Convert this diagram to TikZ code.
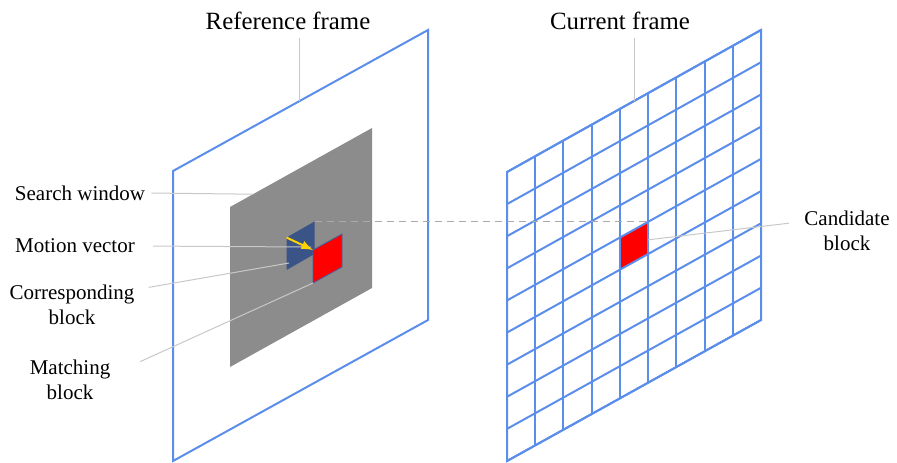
\documentclass[tikz,border=0pt]{standalone}
\usepackage{fontspec}
\setmainfont{Liberation Serif}
\usepackage{xcolor}
\usepackage{tikz}
\usetikzlibrary{positioning, calc}

\definecolor{frameblue}{RGB}{91,141,235}
\definecolor{wingray}{RGB}{140,140,140}
\definecolor{blockblue}{RGB}{59,84,136}
\definecolor{leadgray}{RGB}{200,200,200}
\definecolor{dashgray}{RGB}{170,170,170}
\definecolor{mvyellow}{RGB}{255,210,0}

\begin{document}
\begin{tikzpicture}[x=0.5pt, y=-0.5pt,
        frameline/.style={draw=frameblue, line width=1pt},
        leader/.style={draw=leadgray, line width=0.5pt},
        title/.style={font=\fontsize{12.4}{14}\selectfont, inner sep=2pt},
        tag/.style={font=\fontsize{10.5}{12.5}\selectfont, align=center, inner sep=2pt}]

        \useasboundingbox (0,0) rectangle (897,462);

        % reference frame
        \coordinate (RA) at (173,171);
        \coordinate (RB) at (428,30);
        \coordinate (RC) at (428,320);
        \coordinate (RD) at (173,461);
        \draw [frameline] (RA) -- (RB) -- (RC) -- (RD) -- cycle;

        % search window
        \coordinate (SA) at (230,207);
        \coordinate (SB) at (372,128);
        \coordinate (SC) at (372,288);
        \coordinate (SD) at (230,367);
        \fill [wingray] (SA) -- (SB) -- (SC) -- (SD) -- cycle;

        % corresponding block
        \coordinate (BA) at (286.5,237.5);
        \coordinate (BB) at (314.5,221.5);
        \coordinate (BC) at (314.5,254);
        \coordinate (BD) at (286.5,270);
        \fill [blockblue] (BA) -- (BB) -- (BC) -- (BD) -- cycle;

        % matching block
        \coordinate (MA) at (313,250);
        \coordinate (MB) at (342,234);
        \coordinate (MC) at (342,267);
        \coordinate (MD) at (313,283);
        \filldraw [fill=red, draw=frameblue!70!black, line width=0.4pt] (MA) -- (MB) -- (MC) -- (MD) -- cycle;

        % current frame
        \coordinate (CA) at (507,172);
        \coordinate (CB) at (761,30);
        \coordinate (CC) at (761,320);
        \coordinate (CD) at (507,461);

        % candidate block
        \coordinate (KA) at (620,237.3);
        \coordinate (KB) at (648.1,221.5);
        \coordinate (KC) at (648.1,253.6);
        \coordinate (KD) at (620,269.4);
        \fill [red] (KA) -- (KB) -- (KC) -- (KD) -- cycle;

        % the grid
        \foreach \i in {0,...,9} {
            \draw [frameline] ($(CA)!\i/9!(CB)$) -- ($(CD)!\i/9!(CC)$);
            \draw [frameline] ($(CA)!\i/9!(CD)$) -- ($(CB)!\i/9!(CC)$);
        }
        \draw [frameline] (CA) -- (CB) -- (CC) -- (CD) -- cycle;

        % titles
        \node [title] (rft) at (288,21) {Reference frame};
        \coordinate (rfTip) at ($(RA)!0.498!(RB)$);
        \draw [leader, shorten >=2pt] (rfTip) -- (rfTip |- rft.south);

        \node [title] (cft) at (620,21) {Current frame};
        \coordinate (cfTip) at ($(CA)!0.5!(CB)$);
        \draw [leader, shorten >=2pt] (cfTip) -- (cfTip |- cft.south);

        % labels on the left
        \node [tag] (swt) at (80,193) {Search window};
        \coordinate (swTip) at ($(SA)!0.162!(SB)$);
        \draw [leader, shorten <=1pt] (swt.east) -- (swTip);

        \node [tag] (mvt) at (75,246) {Motion vector};
        \coordinate (mvTip) at (311,247);
        \draw [leader, shorten <=7pt] (mvt.east) -- (mvTip);

        \node [tag] (cbt) at (72,304.5) {Corresponding\\block};
        \coordinate (cbTip) at (289,263);
        \draw [leader, shorten <=5pt] (cbt.13) -- (cbTip);

        \node [tag] (mbt) at (70,379.5) {Matching\\block};
        \draw [leader, shorten <=14pt] (mbt.8) -- (MD);

        % label on the right
        \node [tag] (cdt) at (847,231) {Candidate\\block};
        \coordinate (cdTip) at ($(KB)!0.57!(KC)$);
        \draw [leader, shorten >=5.5pt] (cdTip) -- (cdt.169);

        % dashed link and motion vector
        \draw [dashgray, line width=0.7pt, dash pattern=on 3.5pt off 2.5pt] (BB) -- (KB);
        \draw [mvyellow, line width=1pt, -latex] (BA) -- (MA);
    \end{tikzpicture}
\end{document}
